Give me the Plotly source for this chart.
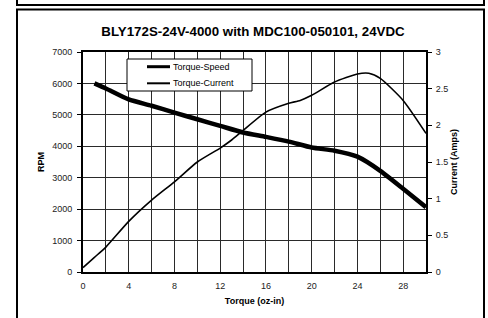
import plotly.graph_objects as go

# ---- data ----
speed_torque = [1, 2, 4, 6, 8, 10, 12, 14, 16, 18, 20, 22, 24, 26, 28, 30]
speed_rpm = [6000, 5840, 5490, 5290, 5070, 4860, 4650, 4440, 4300, 4150, 3960, 3860, 3670, 3220, 2650, 2060]

current_torque = [0, 1, 2, 4, 6, 8, 10, 12, 13, 14, 16, 18, 19, 20, 22, 24, 25, 26, 28, 30]
current_amps = [0.06, 0.2, 0.34, 0.69, 0.98, 1.23, 1.5, 1.69, 1.8, 1.93, 2.18, 2.30, 2.34, 2.41, 2.59, 2.70, 2.71, 2.64, 2.34, 1.89]

series_names = ["Torque-Speed", "Torque-Current"]
x_ticks = [0, 4, 8, 12, 16, 20, 24, 28]
title = "BLY172S-24V-4000 with MDC100-050101, 24VDC"

W, H = 488, 318
L, R, T, B = 83, 62, 52, 46
pw, ph = W - L - R, H - T - B

def px(x):
    return (x - L) / pw

def py(y):
    return (H - B - y) / ph

font = "Liberation Sans, Arial, sans-serif"
widths = [4.5, 1.6]
legend_widths = [3, 2]

fig = go.Figure()
fig.add_trace(go.Scatter(x=speed_torque, y=speed_rpm, name=series_names[0], mode="lines",
                         showlegend=False,
                         line=dict(color="black", width=widths[0], shape="spline", smoothing=0.6)))
fig.add_trace(go.Scatter(x=current_torque, y=current_amps, name=series_names[1], mode="lines",
                         yaxis="y2", showlegend=False,
                         line=dict(color="black", width=widths[1], shape="spline", smoothing=0.6)))

shapes = [
    # outer frame
    dict(type="rect", xref="paper", yref="paper", x0=px(17), x1=px(484), y0=py(340), y1=py(9.5),
         line=dict(color="black", width=2), layer="below"),
    # box above
    dict(type="rect", xref="paper", yref="paper", x0=px(17), x1=px(484), y0=py(5), y1=py(-20),
         line=dict(color="black", width=2), layer="below"),
    # legend box
    dict(type="rect", xref="paper", yref="paper", x0=px(127), x1=px(252), y0=py(91), y1=py(59),
         line=dict(color="black", width=1), fillcolor="white", layer="above"),
]
annotations = []
rows = [66.7, 83.3]
for name, lw, ry in zip(series_names, legend_widths, rows):
    shapes.append(dict(type="line", xref="paper", yref="paper", x0=px(147), x1=px(170),
                       y0=py(ry), y1=py(ry), line=dict(color="black", width=lw), layer="above"))
    annotations.append(dict(text=name, xref="paper", yref="paper", x=px(171), y=py(ry),
                            xanchor="left", yanchor="middle", showarrow=False,
                            font=dict(size=9, color="black", family=font)))

fig.update_layout(
    width=W, height=H,
    margin=dict(l=L, r=R, t=T, b=B),
    paper_bgcolor="white", plot_bgcolor="white",
    font=dict(family=font, size=9, color="#222"),
    title=dict(text="<b>" + title + "</b>", xref="container", x=253 / W, xanchor="center",
               yref="container", y=1 - 31.5 / H, yanchor="middle",
               font=dict(size=13.3, color="black")),
    xaxis=dict(range=[0, 30], tickvals=list(range(0, 31, 2)),
               ticktext=[str(v) if v in x_ticks else "" for v in range(0, 31, 2)],
               showgrid=True, gridcolor="#2a2a2a", gridwidth=1,
               showline=True, linecolor="black", linewidth=1.5, mirror=True,
               ticks="", zeroline=False, ticklabelstandoff=4,
               title=dict(text="<b>Torque (oz-in)</b>", font=dict(size=9, color="black"), standoff=8)),
    yaxis=dict(range=[0, 7000], dtick=1000, showgrid=True, gridcolor="#2a2a2a", gridwidth=1,
               showline=True, linecolor="black", linewidth=2, ticks="outside", ticklen=4,
               tickcolor="black", zeroline=False, ticklabelstandoff=3,
               title=dict(text="<b>RPM</b>", font=dict(size=9, color="black"), standoff=6)),
    yaxis2=dict(range=[0, 3], dtick=0.5, overlaying="y", side="right", showgrid=False,
                showline=True, linecolor="black", linewidth=2, ticks="outside", ticklen=4,
                tickcolor="black", zeroline=False, ticklabelstandoff=2,
                title=dict(text="<b>Current (Amps)</b>", font=dict(size=9, color="black"), standoff=3)),
    shapes=shapes,
    annotations=annotations,
    showlegend=False,
)

fig.write_html("out.html", config={"displayModeBar": False},
               post_script="document.body.style.margin='0';document.body.style.padding='0';")
